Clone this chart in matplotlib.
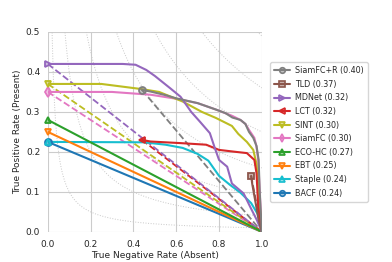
import matplotlib
matplotlib.use("Agg")
import matplotlib.pyplot as plt
import numpy as np
import seaborn as sns

sns.set_style("whitegrid")

# trackers, in legend order
names = ['SiamFC+R', 'TLD', 'MDNet', 'LCT', 'SINT', 'SiamFC', 'ECO-HC', 'EBT', 'Staple', 'BACF']
scores = [0.40, 0.37, 0.32, 0.32, 0.30, 0.30, 0.27, 0.25, 0.24, 0.24]
colors = ['tab:gray', 'tab:brown', 'tab:purple', 'tab:red', 'tab:olive',
          'tab:pink', 'tab:green', 'tab:orange', 'tab:cyan', 'tab:blue']
markers = ['o', 's', '>', '<', 'v', 'd', '^', 'v', '^', 'o']

# operating points (TNR, TPR)
op_tnr = [0.44, 0.95, 0.0, 0.44, 0.0, 0.0, 0.0, 0.0, 0.0, 0.0]
op_tpr = [0.355, 0.14, 0.42, 0.23, 0.37, 0.35, 0.28, 0.25, 0.225, 0.225]

# curves
curve_x = [
    [0.44, 0.48, 0.55, 0.60, 0.70, 0.785, 0.83, 0.862, 0.90, 0.923, 0.94, 0.96, 0.975, 0.985, 0.99, 1.0],
    [0.95, 0.955, 0.965, 0.975, 0.985, 1.0],
    [0.0, 0.35, 0.41, 0.46, 0.50, 0.57, 0.62, 0.67, 0.71, 0.757, 0.78, 0.80, 0.838, 0.86, 0.915, 0.946, 0.977, 1.0],
    [0.44, 0.48, 0.62, 0.74, 0.80, 0.88, 0.93, 0.965, 0.975, 0.983, 1.0],
    [0.0, 0.25, 0.44, 0.52, 0.63, 0.72, 0.785, 0.86, 0.89, 0.93, 0.96, 0.975, 0.985, 1.0],
    [0.0, 0.30, 0.48, 0.60, 0.70, 0.785, 0.862, 0.90, 0.923, 0.94, 0.965, 0.975, 0.983, 0.99, 1.0],
    [0.0, 1.0],
    [0.0, 1.0],
    [0.0, 0.45, 0.55, 0.63, 0.70, 0.75, 0.80, 0.85, 0.90, 0.95, 0.98, 1.0],
    [0.0, 1.0],
]
curve_y = [
    [0.355, 0.351, 0.342, 0.334, 0.322, 0.306, 0.297, 0.286, 0.28, 0.27, 0.25, 0.235, 0.215, 0.18, 0.10, 0.0],
    [0.14, 0.12, 0.09, 0.06, 0.03, 0.0],
    [0.42, 0.42, 0.418, 0.405, 0.39, 0.36, 0.338, 0.30, 0.276, 0.247, 0.21, 0.18, 0.163, 0.121, 0.096, 0.062, 0.029, 0.0],
    [0.23, 0.226, 0.222, 0.218, 0.205, 0.2, 0.197, 0.18, 0.147, 0.063, 0.0],
    [0.37, 0.37, 0.357, 0.35, 0.326, 0.30, 0.285, 0.265, 0.245, 0.225, 0.205, 0.17, 0.10, 0.0],
    [0.35, 0.35, 0.343, 0.333, 0.322, 0.306, 0.29, 0.28, 0.27, 0.255, 0.235, 0.213, 0.18, 0.10, 0.0],
    [0.28, 0.0],
    [0.25, 0.0],
    [0.225, 0.224, 0.218, 0.21, 0.195, 0.178, 0.14, 0.118, 0.098, 0.072, 0.045, 0.0],
    [0.225, 0.0],
]
# which trackers also get a dashed line from the operating point to (1, 0)
dashed = [True, True, True, True, True, True, False, False, False, False]

# geometric-mean contours
gm_levels = [0.1, 0.2, 0.3, 0.4, 0.5, 0.6, 0.7]

fig = plt.figure(figsize=(3.92, 2.62), dpi=100)
ax = fig.add_axes([0.122, 0.115, 0.546, 0.763])

xs = np.linspace(0.001, 1.0, 400)
for c in gm_levels:
    ax.plot(xs, c ** 2 / xs, ':', color='#c8c8c8', lw=0.7, zorder=1)

for i in reversed(range(len(names))):
    col = colors[i]
    ax.plot(curve_x[i], curve_y[i], '-', color=col, lw=1.5, zorder=3)
    if dashed[i]:
        ax.plot([op_tnr[i], 1.0], [op_tpr[i], 0.0], '--', color=col, lw=1.3, zorder=2)
    ax.plot([op_tnr[i]], [op_tpr[i]], marker=markers[i], color=col, ms=5,
            mfc=matplotlib.colors.to_rgba(col, 0.45), mec=col, mew=1.3,
            clip_on=False, zorder=4)

handles = [plt.Line2D([], [], color=colors[i], marker=markers[i], ms=4, lw=1.5,
                      mfc=matplotlib.colors.to_rgba(colors[i], 0.45), mec=colors[i], mew=1.2,
                      label='%s (%.2f)' % (names[i], scores[i]))
           for i in range(len(names))]
ax.legend(handles=handles, loc='center left', bbox_to_anchor=(1.02, 0.5),
          fontsize=5.8, frameon=True, handlelength=2.0, labelspacing=0.57,
          borderpad=0.5, handletextpad=0.6)

ax.set_xlim(0, 1)
ax.set_ylim(0, 0.5)
ax.set_xticks([0, 0.2, 0.4, 0.6, 0.8, 1.0])
ax.set_yticks([0, 0.1, 0.2, 0.3, 0.4, 0.5])
ax.tick_params(labelsize=6.5, pad=2)
ax.set_xlabel('True Negative Rate (Absent)', fontsize=6.5, labelpad=2)
ax.set_ylabel('True Positive Rate (Present)', fontsize=6.5, labelpad=3)
for s in ax.spines.values():
    s.set_visible(False)

fig.savefig('out.png', dpi=100)
